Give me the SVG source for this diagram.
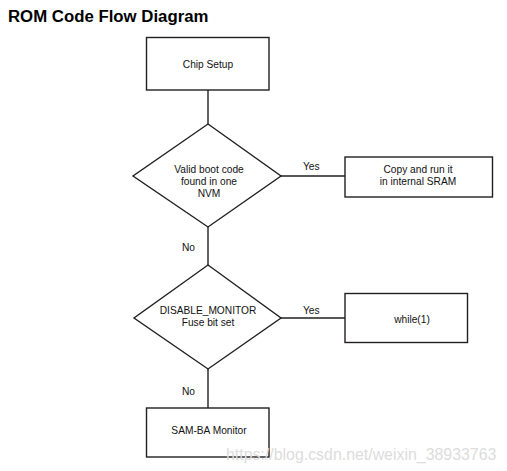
<svg xmlns="http://www.w3.org/2000/svg" width="507" height="471" viewBox="0 0 507 471">
<style>
.shape{fill:#fff;stroke:#231f20;stroke-width:1.4}
.line{fill:none;stroke:#231f20;stroke-width:1.4}
.t{font-family:"Liberation Sans",Arial,sans-serif;font-size:10.2px;fill:#111;text-anchor:middle}
.lbl{font-family:"Liberation Sans",Arial,sans-serif;font-size:10.2px;fill:#111}
.title{font-family:"Liberation Sans",Arial,sans-serif;font-size:16.8px;font-weight:bold;fill:#000}
.wm{font-family:"Liberation Sans",Arial,sans-serif;font-size:15.9px;fill:#dcdcdc}
</style>
<rect width="507" height="471" fill="#fff"/>
<text class="title" x="8" y="22">ROM Code Flow Diagram</text>
<g id="connectors">
<line class="line" x1="208" y1="90" x2="208" y2="124"/>
<line class="line" x1="208" y1="227" x2="208" y2="265"/>
<line class="line" x1="281" y1="176" x2="345" y2="176"/>
<line class="line" x1="281" y1="318" x2="345" y2="318"/>
<line class="line" x1="208" y1="369" x2="208" y2="408"/>
<text class="lbl" x="303" y="170">Yes</text>
<text class="lbl" x="303" y="314">Yes</text>
<text class="lbl" x="182" y="251">No</text>
<text class="lbl" x="182" y="395">No</text>
</g>
<g id="chip-setup">
<rect class="shape" x="146.5" y="37.5" width="122.5" height="52.5"/>
<text class="t" x="208" y="68">Chip Setup</text>
</g>
<g id="valid-boot">
<polygon class="shape" points="208,124 281,176 208,227 133,176"/>
<text class="t" x="209" y="173">Valid boot code</text>
<text class="t" x="209" y="185">found in one</text>
<text class="t" x="209" y="197">NVM</text>
</g>
<g id="copy-run">
<rect class="shape" x="345" y="157" width="147.5" height="40"/>
<text class="t" x="418" y="173">Copy and run it</text>
<text class="t" x="418" y="185">in internal SRAM</text>
</g>
<g id="disable-monitor">
<polygon class="shape" points="208,265 281,318 208,369 134,318"/>
<text class="t" x="208" y="314">DISABLE_MONITOR</text>
<text class="t" x="208" y="326">Fuse bit set</text>
</g>
<g id="while1">
<rect class="shape" x="345" y="293.5" width="122.5" height="49"/>
<text class="t" x="412" y="323">while(1)</text>
</g>
<g id="samba">
<rect class="shape" x="146.5" y="408" width="122.5" height="49"/>
<text class="t" x="209" y="434">SAM-BA Monitor</text>
</g>
<text class="wm" x="226" y="460">https://blog.csdn.net/weixin_38933763</text>
</svg>
